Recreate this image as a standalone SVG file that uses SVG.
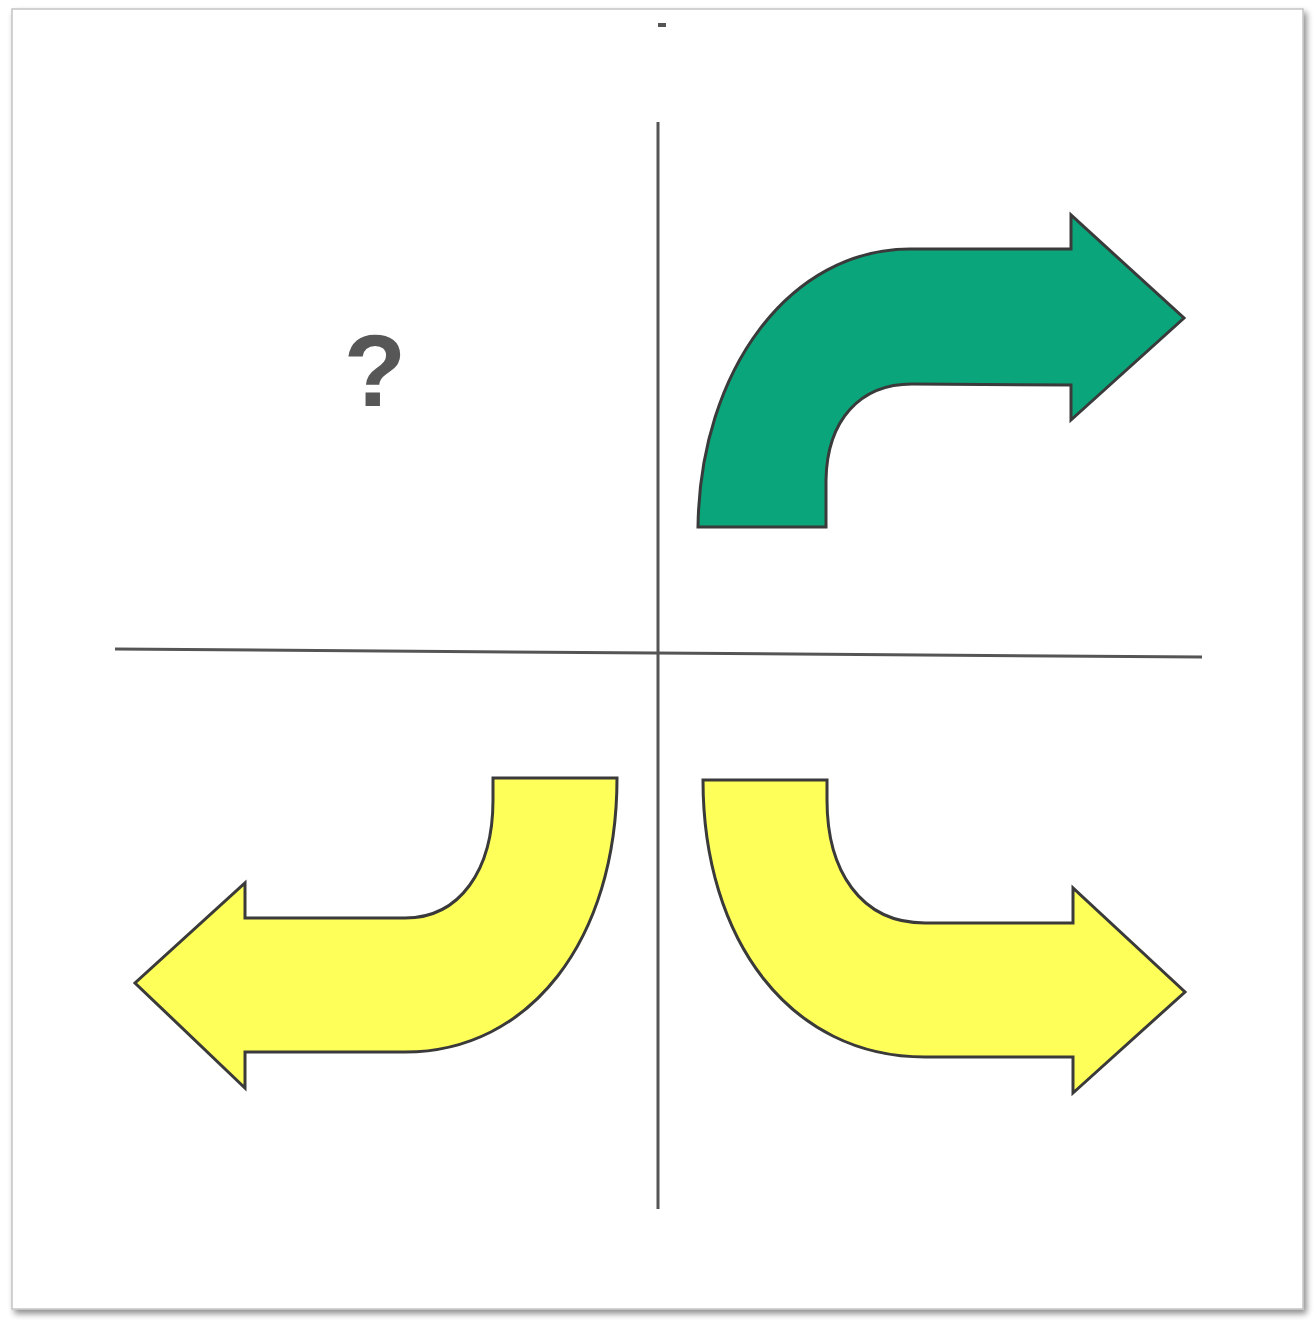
<svg xmlns="http://www.w3.org/2000/svg" width="1315" height="1325" viewBox="0 0 1315 1325">
<defs>
<filter id="sh" x="-5%" y="-5%" width="110%" height="110%">
<feGaussianBlur in="SourceAlpha" stdDeviation="3"/>
<feOffset dx="3" dy="4" result="b"/>
<feComponentTransfer><feFuncA type="linear" slope="0.45"/></feComponentTransfer>
<feMerge><feMergeNode/><feMergeNode in="SourceGraphic"/></feMerge>
</filter>
</defs>
<style>
.axis{stroke:#555;stroke-width:3;fill:none}
.arrow{stroke:#3a3a3a;stroke-width:3;stroke-linejoin:miter}
.green{fill:#0aa57a}
.yellow{fill:#ffff5a}
.q{font-family:"Liberation Sans",Arial,sans-serif;font-weight:bold;font-size:102px;fill:#575757}
</style>
<rect width="1315" height="1325" fill="#ffffff"/>
<g id="frame">
<rect x="12" y="9" width="1291" height="1300" fill="#ffffff" stroke="#c4c4c4" stroke-width="1.5" filter="url(#sh)"/>
</g>
<g id="connectors">
<line class="axis" x1="658" y1="122" x2="658" y2="1209"/>
<line class="axis" x1="115" y1="649" x2="1202" y2="657"/>
<rect x="658" y="23" width="8" height="4" fill="#555"/>
</g>
<g id="question">
<text class="q" x="375" y="406" text-anchor="middle">?</text>
</g>
<g id="green-arrow">
<path class="arrow green" d="M698,527 C700,370 790,249 910,249 L1071,249 L1071,215 L1184,318 L1071,420 L1071,385 L912,384 C860,384 827,420 826,480 L826,527 Z"/>
</g>
<g id="yellow-left">
<path class="arrow yellow" d="M617,778 C617,940 530,1052 405,1052 L245,1052 L245,1088 L135,983 L245,883 L245,918 L405,918 C460,918 493,870 493,800 L493,778 Z"/>
</g>
<g id="yellow-right">
<path class="arrow yellow" d="M703,780 C703,940 790,1057 925,1057 L1073,1057 L1073,1093 L1185,992 L1073,888 L1073,923 L925,923 C860,923 827,870 827,800 L827,780 Z"/>
</g>
</svg>
